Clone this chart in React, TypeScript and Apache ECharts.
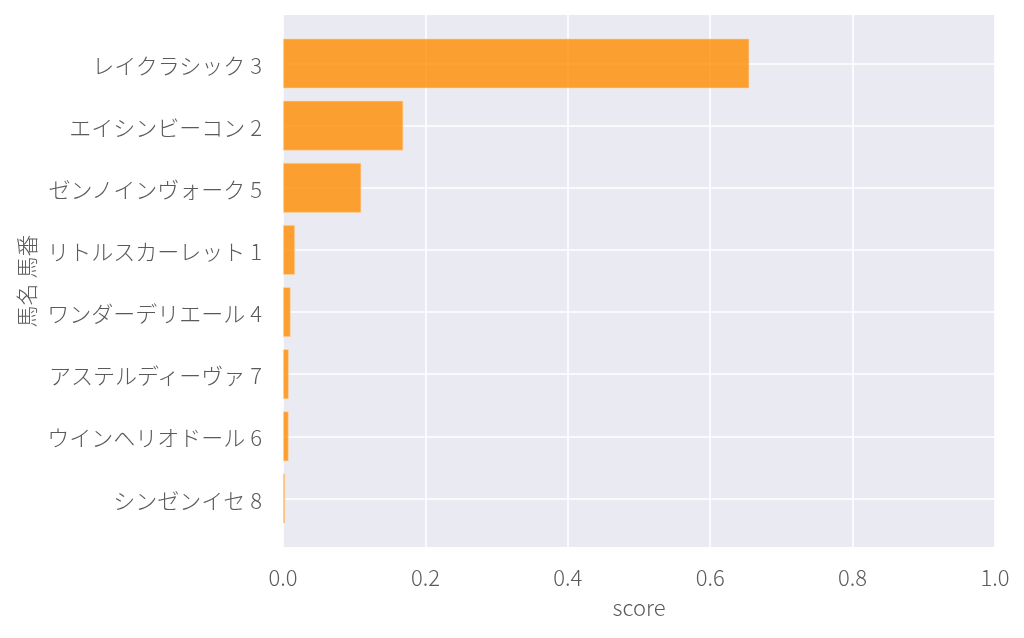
import React, { useEffect, useRef } from "react";
import * as echarts from "echarts";

const horseNames = [
  "レイクラシック 3",
  "エイシンビーコン 2",
  "ゼンノインヴォーク 5",
  "リトルスカーレット 1",
  "ワンダーデリエール 4",
  "アステルディーヴァ 7",
  "ウインヘリオドール 6",
  "シンゼンイセ 8",
];
const scores = [0.655, 0.169, 0.11, 0.017, 0.0108, 0.0082, 0.008, 0.003];
const xTicks = { min: 0, max: 1, interval: 0.2 };

const FONT = "'Noto Sans CJK JP', 'Noto Sans', sans-serif";
const TEXT = "#5a5a5a";

export default function App() {
  const ref = useRef<HTMLDivElement>(null);
  useEffect(() => {
    if (!ref.current) return;
    const chart = echarts.init(ref.current, undefined, { renderer: "svg" });
    chart.setOption({
      animation: false,
      textStyle: { fontFamily: FONT },
      grid: [
        {
          left: 283,
          right: 29,
          top: 15,
          bottom: 91,
          show: true,
          backgroundColor: "#eaeaf2",
          borderWidth: 0,
          z: -1,
        },
        { left: 283, right: 29, top: 63.5, bottom: 139.5, z: 0 },
      ],
      xAxis: [
        {
          type: "value",
          gridIndex: 0,
          min: xTicks.min,
          max: xTicks.max,
          interval: xTicks.interval,
          axisLine: { show: false },
          axisTick: { show: false },
          axisLabel: {
            margin: 18,
            fontSize: 22,
            fontWeight: 300,
            color: TEXT,
            fontFamily: FONT,
            formatter: (v: number) => v.toFixed(1),
          },
          splitLine: { show: true, lineStyle: { color: "#ffffff", width: 1.6 } },
          name: "score",
          nameLocation: "middle",
          nameGap: 48,
          nameTextStyle: { fontSize: 22, fontWeight: 300, color: TEXT, fontFamily: FONT },
        },
        {
          type: "value",
          gridIndex: 1,
          min: xTicks.min,
          max: xTicks.max,
          show: false,
          splitLine: { show: false },
        },
      ],
      yAxis: [
        { type: "value", gridIndex: 0, show: false, min: 0, max: 1, splitLine: { show: false } },
        {
          type: "category",
          gridIndex: 1,
          data: horseNames,
          inverse: true,
          boundaryGap: false,
          axisLine: { show: false },
          axisTick: { show: false },
          axisLabel: {
            interval: 0,
            margin: 21,
            fontSize: 22,
            fontWeight: 300,
            color: TEXT,
            fontFamily: FONT,
          },
          splitLine: { show: true, interval: 0, lineStyle: { color: "#ffffff", width: 1.6 } },
          name: "馬名 馬番",
          nameLocation: "middle",
          nameGap: 246,
          nameTextStyle: { fontSize: 22, fontWeight: 300, color: TEXT, fontFamily: FONT },
        },
      ],
      series: [
        {
          type: "bar",
          xAxisIndex: 1,
          yAxisIndex: 1,
          data: scores,
          barWidth: 50,
          clip: false,
          z: 3,
          itemStyle: {
            color: "rgba(255,140,0,0.8)",
            borderColor: "rgba(255,215,170,0.75)",
            borderWidth: 0.8,
          },
        },
      ],
    });
    return () => chart.dispose();
  }, []);
  return (
    <div
      ref={ref}
      style={{ position: "fixed", left: 0, top: 0, width: 1024, height: 638 }}
    />
  );
}
